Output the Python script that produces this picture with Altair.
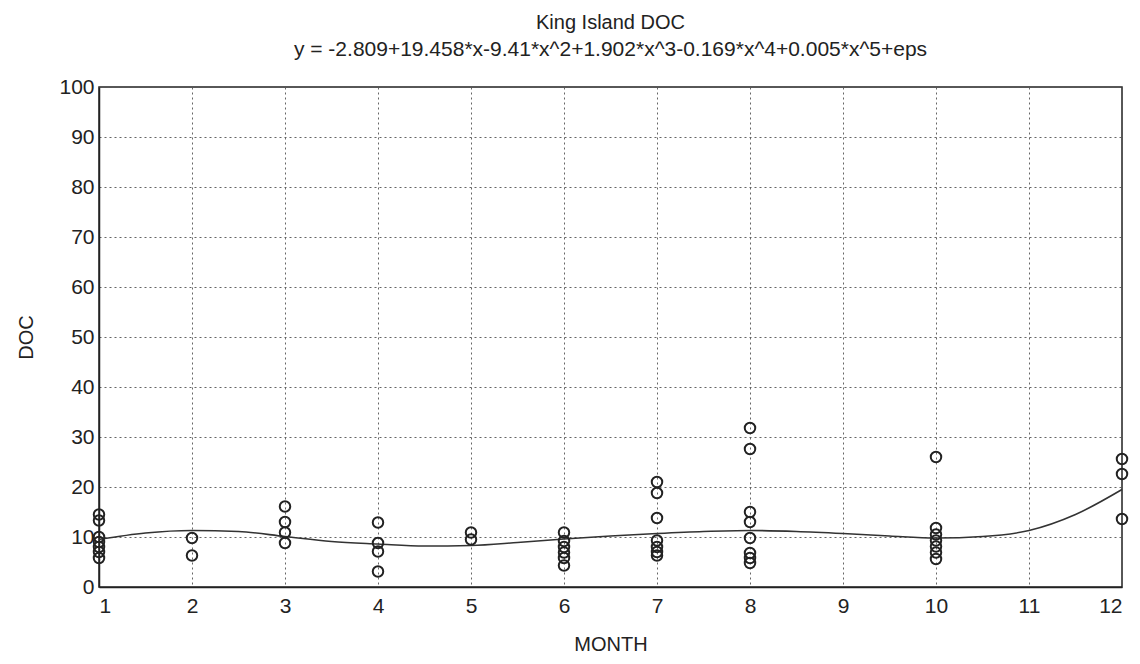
import altair as alt
import pandas as pd

months = (
    [1] * 7 + [2] * 2 + [3] * 4 + [4] * 4 + [5] * 2 + [6] * 6 + [7] * 7
    + [8] * 8 + [10] * 7 + [12] * 3
)
doc = (
    [14.5, 13.3, 10.0, 9.0, 8.0, 7.0, 5.8]
    + [9.8, 6.3]
    + [16.1, 13.0, 10.9, 8.8]
    + [12.9, 8.8, 7.1, 3.1]
    + [10.9, 9.5]
    + [10.9, 9.2, 8.0, 6.9, 5.8, 4.3]
    + [21.0, 18.8, 13.8, 9.3, 8.0, 7.0, 6.3]
    + [31.8, 27.6, 15.0, 13.0, 9.8, 6.8, 5.8, 4.8]
    + [26.0, 11.8, 10.5, 9.3, 8.1, 6.9, 5.6]
    + [25.6, 22.6, 13.6]
)

# Fitted curve
curve_x = [1, 1.5, 2, 2.5, 3, 3.5, 4, 4.5, 5, 5.5, 6, 6.5, 7, 7.5, 8, 8.5,
           9, 9.5, 10, 10.5, 11, 11.5, 12]
curve_y = [9.5, 10.8, 11.3, 11.1, 10.1, 9.1, 8.6, 8.2, 8.3, 8.9, 9.6, 10.2,
           10.7, 11.1, 11.3, 11.1, 10.7, 10.2, 9.8, 10.1, 11.3, 14.5, 19.5]

x_ticks = list(range(1, 13))
y_ticks = list(range(0, 101, 10))

title_text = "King Island DOC"
subtitle_text = "y = -2.809+19.458*x-9.41*x^2+1.902*x^3-0.169*x^4+0.005*x^5+eps"

pts = pd.DataFrame({"MONTH": months, "DOC": doc})
crv = pd.DataFrame({"MONTH": curve_x, "DOC": curve_y})

FONT = "Liberation Sans"

x_enc = alt.X(
    "MONTH:Q",
    scale=alt.Scale(domain=[1, 12], nice=False, zero=False),
    axis=alt.Axis(values=x_ticks, format="d", title="MONTH"),
)
y_enc = alt.Y(
    "DOC:Q",
    scale=alt.Scale(domain=[0, 100], nice=False),
    axis=alt.Axis(values=y_ticks, format="d", title="DOC"),
)

points = alt.Chart(pts).mark_point(
    shape="circle", filled=False, color="#222222", strokeWidth=2, size=110, opacity=1
).encode(x=x_enc, y=y_enc)

curve = alt.Chart(crv).mark_line(
    color="#333333", strokeWidth=1.6, interpolate="monotone"
).encode(x=x_enc, y=y_enc)

chart = (
    alt.layer(curve, points)
    .properties(
        width=1023,
        height=500,
        autosize=alt.AutoSizeParams(type="none"),
        padding={"left": 91, "top": 79, "right": 10, "bottom": 77},
        title=alt.TitleParams(
            text=title_text,
            subtitle=subtitle_text,
            anchor="middle",
            font=FONT,
            fontSize=20,
            fontWeight="normal",
            color="#222222",
            subtitleFont=FONT,
            subtitleFontSize=21,
            subtitleColor="#222222",
            subtitlePadding=6,
            offset=16,
        ),
    )
    .configure_view(stroke="#222222", strokeWidth=1.5)
    .configure_axis(
        grid=True,
        gridColor="#555555",
        gridDash=[2, 3],
        gridWidth=1,
        gridOpacity=0.9,
        domainColor="#222222",
        domainWidth=1.5,
        tickSize=0,
        labelFont=FONT,
        labelFontSize=21,
        labelColor="#222222",
        titleFont=FONT,
        titleFontSize=20,
        titleFontWeight="normal",
        titleColor="#222222",
    )
    .configure_axisX(labelPadding=8, titlePadding=18)
    .configure_axisY(labelPadding=5, titlePadding=22)
)

chart.save("out.html", embed_options={"renderer": "svg", "actions": False})
